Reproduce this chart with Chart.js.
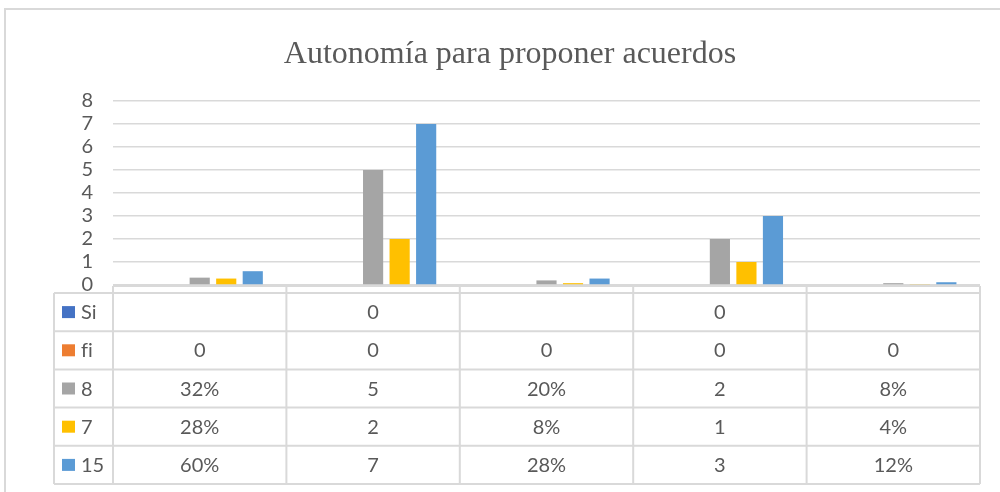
<!DOCTYPE html>
<html>
<head>
<meta charset="utf-8">
<script src="https://cdn.jsdelivr.net/npm/chart.js@4/dist/chart.umd.min.js"></script>
<style>
    html, body { margin: 0; padding: 0; background: #fff; }
    #wrap { width: 1000px; height: 492px; }
</style>
</head>
<body>
<div id="wrap"><canvas id="chart" width="1000" height="492"></canvas></div>
<script>
// Chart data (categories have no names in the original)
const categories = ['', '', '', '', ''];
const seriesNames = ['Si', 'fi', '8', '7', '15'];
const siValues = [null, 0, null, 0, null];
const fiValues = [0, 0, 0, 0, 0];
const eightValues = [0.32, 5, 0.20, 2, 0.08];
const sevenValues = [0.28, 2, 0.08, 1, 0.04];
const fifteenValues = [0.60, 7, 0.28, 3, 0.12];
// columns shown as percentages in the data table
const percentColumns = [true, false, true, false, true];
const yMin = 0;
const yMax = 8;
const yStep = 1;

const chartTitle = 'Autonomía para proponer acuerdos';
const colors = ['#4472C4', '#ED7D31', '#A5A5A5', '#FFC000', '#5B9BD5'];
const textColor = '#595959';
const lineColor = '#d9d9d9';

const allValues = [siValues, fiValues, eightValues, sevenValues, fifteenValues];

function formatCell(value, col) {
    if (value === null) return '';
    if (value === 0) return '0';
    if (percentColumns[col]) return Math.round(value * 100) + '%';
    return String(value);
}

// Draws the title, frame and the data table under the plot
const tablePlugin = {
    id: 'dataTable',
    beforeDraw(chart) {
        const ctx = chart.ctx;
        ctx.save();
        ctx.fillStyle = '#fff';
        ctx.fillRect(0, 0, chart.width, chart.height);
        ctx.strokeStyle = lineColor;
        ctx.lineWidth = 2;
        ctx.strokeRect(5, 9, chart.width + 20, chart.height + 20);
        ctx.restore();
    },
    afterDraw(chart) {
        const ctx = chart.ctx;
        const area = chart.chartArea;
        const xScale = chart.scales.x;
        const colW = (area.right - area.left) / categories.length;
        const axisY = area.bottom + 1;
        const top = axisY + 7;
        const rowH = 38.2;
        const labelLeft = 54;
        const bottom = top + rowH * seriesNames.length;

        ctx.save();
        ctx.textRendering = 'optimizeSpeed';

        // title
        ctx.fillStyle = textColor;
        ctx.font = '32px "Liberation Serif"';
        ctx.textAlign = 'center';
        ctx.textBaseline = 'alphabetic';
        ctx.fillText(chartTitle, 510, 63);

        // grid of the table
        ctx.strokeStyle = lineColor;
        ctx.lineWidth = 2;
        ctx.beginPath();
        ctx.moveTo(area.left, axisY);
        ctx.lineTo(area.right, axisY);
        for (let r = 0; r <= seriesNames.length; r++) {
            const y = top + r * rowH;
            ctx.moveTo(labelLeft, y);
            ctx.lineTo(area.right, y);
        }
        ctx.moveTo(labelLeft, top);
        ctx.lineTo(labelLeft, bottom);
        for (let c = 0; c <= categories.length; c++) {
            const x = area.left + c * colW;
            ctx.moveTo(x, axisY);
            ctx.lineTo(x, bottom);
        }
        ctx.stroke();

        // legend keys and cell values
        ctx.font = '20px Lato';
        seriesNames.forEach((name, r) => {
            const rowTop = top + r * rowH;
            const baseY = rowTop + rowH / 2 + 7;
            ctx.fillStyle = colors[r];
            ctx.fillRect(62, rowTop + rowH / 2 - 6, 13, 12);
            ctx.fillStyle = textColor;
            ctx.textAlign = 'left';
            ctx.fillText(name, 81, baseY);
            ctx.textAlign = 'center';
            allValues[r].forEach((v, c) => {
                ctx.fillText(formatCell(v, c), xScale.getPixelForValue(c), baseY);
            });
        });

        ctx.restore();
    }
};

const ctx = document.getElementById('chart').getContext('2d');

new Chart(ctx, {
    type: 'bar',
    data: {
        labels: categories,
        datasets: seriesNames.map((name, i) => ({
            label: name,
            data: allValues[i],
            backgroundColor: colors[i],
            borderWidth: 0,
            barPercentage: 0.76,
            categoryPercentage: 0.765
        }))
    },
    options: {
        responsive: false,
        animation: false,
        layout: {
            padding: { top: 101, right: 20, bottom: 207, left: 0 }
        },
        plugins: {
            legend: { display: false },
            title: { display: false },
            tooltip: { enabled: false }
        },
        scales: {
            x: { display: false },
            y: {
                min: yMin,
                max: yMax,
                afterFit: (scale) => { scale.width = 113; },
                border: { display: false },
                grid: { color: lineColor, lineWidth: 1.5, drawTicks: false },
                ticks: {
                    stepSize: yStep,
                    autoSkip: false,
                    color: textColor,
                    padding: 20,
                    font: { family: 'Lato', size: 20 }
                }
            }
        }
    },
    plugins: [tablePlugin]
});
</script>
</body>
</html>
